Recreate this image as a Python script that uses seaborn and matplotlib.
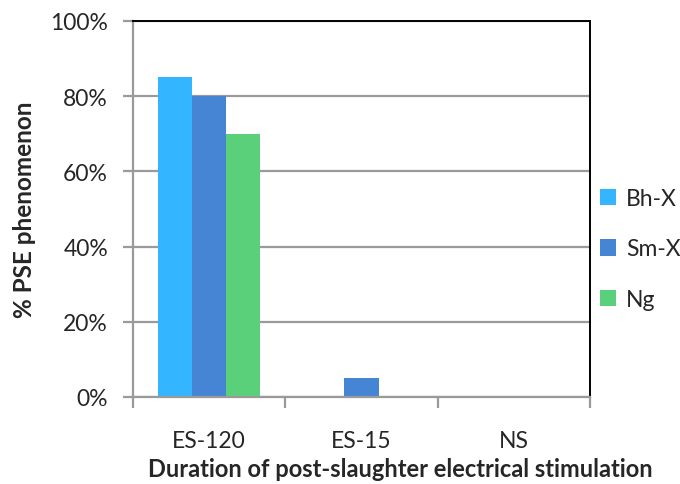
import matplotlib
matplotlib.use("Agg")
import matplotlib.pyplot as plt
import seaborn as sns
import pandas as pd
from matplotlib.ticker import FixedLocator, PercentFormatter
from matplotlib.patches import Patch

categories = ["ES-120", "ES-15", "NS"]
series_names = ["Bh-X", "Sm-X", "Ng"]
bh_x = [85, 0, 0]
sm_x = [80, 5, 0]
ng = [70, 0, 0]
yticks = [0, 20, 40, 60, 80, 100]
colors = ["#33B5FF", "#4684D4", "#5BD07A"]

rows = []
for name, vals in zip(series_names, [bh_x, sm_x, ng]):
    for c, v in zip(categories, vals):
        rows.append({"cat": c, "series": name, "val": v})
df = pd.DataFrame(rows)

sns.set_style("white")
plt.rcParams["font.family"] = ["Lato", "DejaVu Sans"]

fig = plt.figure(figsize=(6.8, 4.85), dpi=100)
ax = fig.add_axes([133/680, 87/485, (590-133)/680, (398-22)/485])

sns.barplot(data=df, x="cat", y="val", hue="series", order=categories,
            hue_order=series_names, palette=colors, width=0.67, gap=0,
            saturation=1, edgecolor="none", linewidth=0, ax=ax, legend=False)

ax.set_ylim(0, 100)
ax.set_xlim(-0.5, 2.5)
ax.set_yticks(yticks)
ax.yaxis.set_major_formatter(PercentFormatter(decimals=0))
ax.yaxis.grid(True, color="#9a9a9a", linewidth=1.6)
ax.set_axisbelow(True)

for s in ["left", "bottom"]:
    ax.spines[s].set_color("#9a9a9a")
    ax.spines[s].set_linewidth(1.6)
for s in ["top", "right"]:
    ax.spines[s].set_color("black")
    ax.spines[s].set_linewidth(1.4)

ax.tick_params(axis="y", which="major", direction="out", length=7, width=1.6,
               color="#9a9a9a", labelsize=16.5, pad=11, left=True)
ax.tick_params(axis="x", which="major", length=0, labelsize=16.5, pad=24)
ax.xaxis.set_minor_locator(FixedLocator([-0.5, 0.5, 1.5, 2.5]))
ax.tick_params(axis="x", which="minor", direction="out", length=8, width=1.6,
               color="#9a9a9a", bottom=True)

ax.set_xlabel("Duration of post-slaughter electrical stimulation",
              fontsize=17, fontweight="bold", labelpad=4)
ax.xaxis.label.set_x((400 - 133) / (590 - 133))
ax.set_ylabel("% PSE phenomenon", fontsize=17.5, fontweight="bold", labelpad=10)

handles = [Patch(facecolor=c, edgecolor="none") for c in colors]
fig.legend(handles, series_names, loc="center left",
           bbox_to_anchor=(600/680, 1 - 250/485), frameon=False,
           fontsize=16.5, handlelength=0.7, handleheight=0.7,
           handletextpad=0.45, labelspacing=1.3, borderaxespad=0,
           borderpad=0)

fig.savefig("out.png", dpi=100)
